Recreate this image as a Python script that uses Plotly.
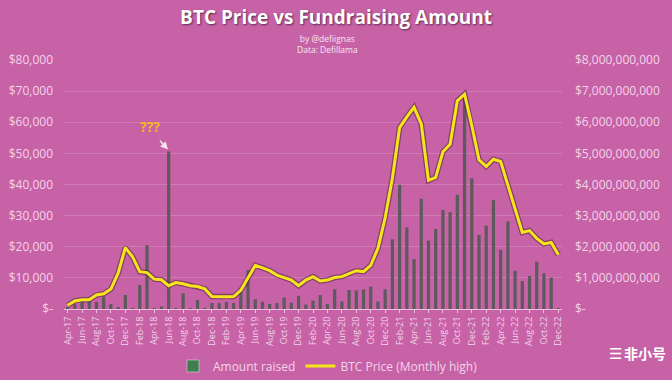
import plotly.graph_objects as go

months = ["Apr-17", "May-17", "Jun-17", "Jul-17", "Aug-17", "Sep-17", "Oct-17", "Nov-17", "Dec-17",
          "Jan-18", "Feb-18", "Mar-18", "Apr-18", "May-18", "Jun-18", "Jul-18", "Aug-18", "Sep-18", "Oct-18", "Nov-18", "Dec-18",
          "Jan-19", "Feb-19", "Mar-19", "Apr-19", "May-19", "Jun-19", "Jul-19", "Aug-19", "Sep-19", "Oct-19", "Nov-19", "Dec-19",
          "Jan-20", "Feb-20", "Mar-20", "Apr-20", "May-20", "Jun-20", "Jul-20", "Aug-20", "Sep-20", "Oct-20", "Nov-20", "Dec-20",
          "Jan-21", "Feb-21", "Mar-21", "Apr-21", "May-21", "Jun-21", "Jul-21", "Aug-21", "Sep-21", "Oct-21", "Nov-21", "Dec-21",
          "Jan-22", "Feb-22", "Mar-22", "Apr-22", "May-22", "Jun-22", "Jul-22", "Aug-22", "Sep-22", "Oct-22", "Nov-22", "Dec-22"]

# Fundraising amount (billions USD)
amount_raised_bn = [0.05, 0.15, 0.23, 0.26, 0.23, 0.40, 0.16, 0.06, 0.45, 0.03,
                    0.77, 2.05, 0.03, 0.08, 5.06, 0.02, 0.50, 0.03, 0.29, 0.03,
                    0.19, 0.19, 0.23, 0.19, 0.56, 1.25, 0.31, 0.23, 0.16, 0.19,
                    0.37, 0.20, 0.42, 0.14, 0.27, 0.45, 0.16, 0.63, 0.24, 0.61,
                    0.60, 0.63, 0.72, 0.24, 0.63, 2.24, 3.99, 2.62, 1.60, 3.54,
                    2.20, 2.57, 3.18, 3.11, 3.67, 6.88, 4.20, 2.38, 2.68, 3.50,
                    1.90, 2.81, 1.23, 0.90, 1.06, 1.52, 1.15, 1.01, 0.02]

# BTC monthly high (USD)
btc_high = [1200, 2600, 3000, 3000, 4500, 4900, 6400, 11500, 19700, 16800,
            12000, 11700, 9600, 9400, 7500, 8500, 8100, 7500, 7200, 6500,
            4000, 3900, 3900, 4000, 6000, 10000, 14000, 13200, 12300, 10900,
            10200, 9300, 7500, 9300, 10400, 9000, 9300, 10100, 10400, 11400,
            12300, 12000, 14000, 19500, 29300, 42000, 58300, 61700, 64800, 59500,
            41300, 42300, 50500, 52900, 66900, 69000, 59000, 47900, 45800, 48100,
            47400, 39800, 31900, 24600, 25200, 22700, 20900, 21400, 17400]

left_ticks = [0, 10000, 20000, 30000, 40000, 50000, 60000, 70000, 80000]
left_text = ["$-", "$10,000", "$20,000", "$30,000", "$40,000", "$50,000", "$60,000", "$70,000", "$80,000"]
right_ticks = [0, 1e9, 2e9, 3e9, 4e9, 5e9, 6e9, 7e9, 8e9]
right_text = ["$-", "$1,000,000,000", "$2,000,000,000", "$3,000,000,000", "$4,000,000,000",
              "$5,000,000,000", "$6,000,000,000", "$7,000,000,000", "$8,000,000,000"]

raised_usd = [v * 1e9 for v in amount_raised_bn]

BG = "#c762a6"
TICK = "#f3d3ea"
FONT = "Open Sans"

fig = go.Figure()
fig.add_trace(go.Bar(x=months, y=raised_usd, yaxis="y", marker=dict(color="#5c5a5c", line=dict(width=0)),
                     width=0.45, showlegend=False, hoverinfo="skip"))
fig.add_trace(go.Bar(x=[None], y=[None], yaxis="y", name="Amount raised",
                     marker=dict(color="#3e7d4d")))
fig.add_trace(go.Scatter(x=months, y=btc_high, yaxis="y2", mode="lines",
                         line=dict(color="rgba(70,30,45,0.5)", width=5.5), showlegend=False, hoverinfo="skip"))
fig.add_trace(go.Scatter(x=months, y=btc_high, yaxis="y2", mode="lines",
                         line=dict(color="#f7e51b", width=3), name="BTC Price (Monthly high)"))

fig.update_layout(
    width=672, height=380,
    paper_bgcolor=BG, plot_bgcolor=BG,
    margin=dict(l=64, r=110, t=60, b=71, autoexpand=False),
    barmode="overlay",
    font=dict(family=FONT, color=TICK, size=12),
    title=dict(text="<b>BTC Price vs Fundraising Amount</b>", xref="container", x=0.5, y=0.955,
               xanchor="center", yanchor="middle", automargin=False,
               font=dict(family=FONT, size=19, color="white", shadow="1px 1px 2px rgba(0,0,0,0.55)")),
    xaxis=dict(type="category", range=[-0.5, 68.5], tickmode="array", tickvals=months[::2],
               ticktext=months[::2], tickangle=-90, tickfont=dict(size=9, color=TICK),
               showgrid=False, showline=True, linecolor="rgba(255,235,245,0.7)", linewidth=1,
               ticks="outside", ticklen=3, tickcolor="rgba(255,235,245,0.7)", automargin=False),
    yaxis=dict(side="right", range=[0, 8e9], tickmode="array", tickvals=right_ticks, ticktext=right_text,
               showgrid=True, gridcolor="rgba(255,255,255,0.16)", gridwidth=1, zeroline=False,
               tickfont=dict(size=12, color=TICK), ticklabelstandoff=12, automargin=False),
    yaxis2=dict(side="left", overlaying="y", range=[0, 80000], tickmode="array", tickvals=left_ticks,
                ticktext=left_text, showgrid=False, zeroline=False,
                tickfont=dict(size=12, color=TICK), ticklabelstandoff=10, automargin=False),
    legend=dict(orientation="h", x=0.53, y=-0.229, xanchor="center", yanchor="middle",
                font=dict(size=12, color=TICK), bgcolor="rgba(0,0,0,0)"),
    annotations=[
        dict(text="by @defiignas<br>Data: Defillama", xref="paper", yref="paper", x=0.53, y=1.064,
             showarrow=False, yanchor="middle",
             font=dict(size=8.5, color="#f8e6f2", family=FONT)),
        dict(text="<b>???</b>", xref="paper", yref="paper", x=0.149, y=0.731, showarrow=False,
             yanchor="middle", font=dict(size=14, color="#f5b61e", family=FONT)),
        dict(text="", x="Jun-18", y=5.1e9, xref="x", yref="y", showarrow=True, arrowhead=2,
             arrowsize=1, arrowwidth=1.5, arrowcolor="#f8e4f0", ax=-10, ay=-11, standoff=1),
        dict(text="☰", xref="paper", yref="paper", x=1.125, y=-0.225, showarrow=False,
             font=dict(size=15, color="white", family="DejaVu Sans")),
        dict(text="<b>非小号</b>", xref="paper", yref="paper", x=1.212, y=-0.225, showarrow=False,
             font=dict(size=14, color="white", family="Noto Sans CJK SC")),
    ],
)

fig.write_html("out.html", config={"displayModeBar": False},
               post_script="document.body.style.margin='0';document.body.style.background='" + BG + "';")
